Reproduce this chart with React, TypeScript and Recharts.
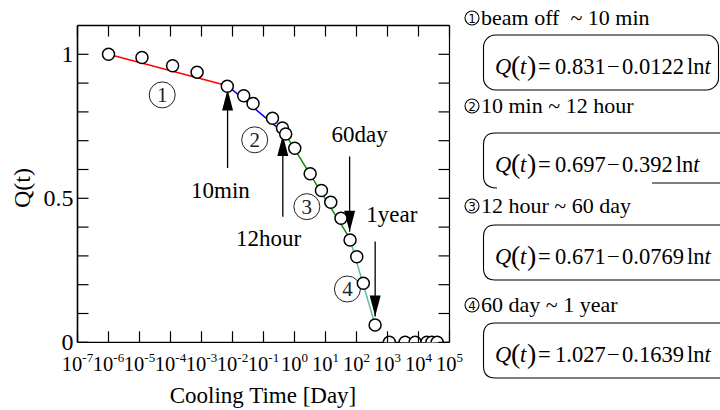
import { ScatterChart, Scatter, XAxis, YAxis } from "recharts";

const FONT = "'Liberation Serif', 'Times New Roman', serif";

// measured points: cooling time [day], Q(t)
const points = [
  { t: 1e-6, q: 1.0 },
  { t: 1.2e-5, q: 0.989 },
  { t: 1.17e-4, q: 0.96 },
  { t: 7.2e-4, q: 0.938 },
  { t: 6.8e-3, q: 0.889 },
  { t: 0.023, q: 0.856 },
  { t: 0.046, q: 0.829 },
  { t: 0.195, q: 0.778 },
  { t: 0.41, q: 0.744 },
  { t: 0.52, q: 0.723 },
  { t: 1.02, q: 0.674 },
  { t: 3.2, q: 0.585 },
  { t: 7.4, q: 0.527 },
  { t: 14.8, q: 0.486 },
  { t: 31.6, q: 0.431 },
  { t: 62, q: 0.355 },
  { t: 102, q: 0.297 },
  { t: 166, q: 0.205 },
  { t: 398, q: 0.06 },
  { t: 1150, q: 0.0 },
  { t: 3700, q: 0.0 },
  { t: 7800, q: 0.0 },
  { t: 18600, q: 0.0 },
  { t: 27000, q: 0.0 },
  { t: 40000, q: 0.0 },
];

// fitted segments (end points)
const fit1 = [{ t: 1e-6, q: 1.0 }, { t: 6.9e-3, q: 0.891 }];
const fit2 = [{ t: 6.9e-3, q: 0.891 }, { t: 0.51, q: 0.722 }];
const fit3 = [{ t: 0.51, q: 0.722 }, { t: 60, q: 0.362 }];
const fit4 = [{ t: 60, q: 0.362 }, { t: 400, q: 0.06 }];

const xTicks = [1e-7, 1e-6, 1e-5, 1e-4, 1e-3, 1e-2, 1e-1, 1, 10, 100, 1e3, 1e4, 1e5];
const yTicks = [0, 0.1, 0.2, 0.3, 0.4, 0.5, 0.6, 0.7, 0.8, 0.9, 1.0];
const yLabels = [0, 0.5, 1];

// arrows: position, tail and tip
const arrows = [
  { t: 6.94e-3, from: 0.605, to: 0.878, dir: "up" },
  { t: 0.42, from: 0.436, to: 0.72, dir: "up" },
  { t: 60, from: 0.645, to: 0.384, dir: "down" },
  { t: 400, from: 0.35, to: 0.09, dir: "down" },
];
const arrowLabels = [
  { t: 0.0041, q: 0.501, text: "10min" },
  { t: 0.145, q: 0.335, text: "12hour" },
  { t: 126, q: 0.697, text: "60day" },
  { t: 1380, q: 0.416, text: "1year" },
];
const regionMarks = [
  { t: 5.4e-5, q: 0.859, n: "1" },
  { t: 0.052, q: 0.703, n: "2" },
  { t: 2.5, q: 0.471, n: "3" },
  { t: 51, q: 0.185, n: "4" },
];

const ranges = ["beam off  ~ 10 min", "10 min ~ 12 hour", "12 hour ~ 60 day", "60 day ~ 1 year"];
const coefs = [
  ["0.831", "0.0122"],
  ["0.697", "0.392"],
  ["0.671", "0.0769"],
  ["1.027", "0.1639"],
];

const TICK = 11;

const BottomTick = ({ x, y, payload }: any) => {
  const e = Math.round(Math.log10(payload.value));
  return (
    <g>
      <line x1={x} y1={y} x2={x} y2={y - TICK} stroke="#000" strokeWidth={1.2} />
      <text x={x} y={y + 29} textAnchor="middle" fontFamily={FONT} fontSize={20.5} fill="#000">
        <tspan>10</tspan>
        <tspan dy={-9} fontSize={13}>{e}</tspan>
      </text>
    </g>
  );
};

const TopTick = ({ x, y }: any) => (
  <line x1={x} y1={y} x2={x} y2={y + TICK} stroke="#000" strokeWidth={1.2} />
);

const LeftTick = ({ x, y, payload }: any) => {
  const show = yLabels.some((v) => Math.abs(v - payload.value) < 1e-6);
  return (
    <g>
      <line x1={x} y1={y} x2={x + TICK} y2={y} stroke="#000" strokeWidth={1.2} />
      {show && (
        <text x={x - 4} y={y + 8} textAnchor="end" fontFamily={FONT} fontSize={24} fill="#000">
          {payload.value}
        </text>
      )}
    </g>
  );
};

const RightTick = ({ x, y }: any) => (
  <line x1={x} y1={y} x2={x - TICK} y2={y} stroke="#000" strokeWidth={1.2} />
);

const Circle = (props: any) => (
  <circle cx={props.cx} cy={props.cy} r={6} fill="#fff" stroke="#000" strokeWidth={1.5} />
);

const Empty = () => <g />;

const Head = (dir: string) => (props: any) => {
  const { cx, cy } = props;
  const s = dir === "up" ? 1 : -1;
  return (
    <polygon
      points={`${cx},${cy} ${cx - 5.5},${cy + s * 21} ${cx + 5.5},${cy + s * 21}`}
      fill="#000"
    />
  );
};

const LabelText = (props: any) => (
  <text x={props.cx} y={props.cy} textAnchor="middle" fontFamily={FONT} fontSize={23} fill="#000">
    {props.payload.text}
  </text>
);

const RegionMark = (props: any) => (
  <g>
    <circle cx={props.cx} cy={props.cy} r={13} fill="none" stroke="#222" strokeWidth={1} />
    <text
      x={props.cx}
      y={props.cy + 7}
      textAnchor="middle"
      fontFamily={FONT}
      fontSize={21}
      fill="#222"
    >
      {props.payload.n}
    </text>
  </g>
);

const SmallCircled = ({ x, y, n }: { x: number; y: number; n: number }) => (
  <g>
    <circle cx={x} cy={y} r={7} fill="none" stroke="#000" strokeWidth={1.1} />
    <text x={x} y={y + 4.5} textAnchor="middle" fontFamily="'DejaVu Sans', sans-serif" fontSize={12} fill="#000">
      {n}
    </text>
  </g>
);

const boxTops = [35, 133, 225, 323];
const rangeBaselines = [25, 113, 213, 312];

const Panel = () => (
  <svg width={720} height={410} style={{ position: "absolute", left: 0, top: 0, pointerEvents: "none" }}>
    <text
      transform="translate(30,188) rotate(-90)"
      textAnchor="middle"
      fontFamily={FONT}
      fontSize={24}
      fill="#000"
    >
      Q(t)
    </text>
    <text x={263} y={403} textAnchor="middle" fontFamily={FONT} fontSize={23} fill="#000">
      Cooling Time [Day]
    </text>
    {ranges.map((r, i) => {
      const top = boxTops[i];
      const h = 55;
      const [a, b] = coefs[i];
      const base = top + 39;
      return (
        <g key={i}>
          <SmallCircled x={472} y={rangeBaselines[i] - 7} n={i + 1} />
          <text x={481} y={rangeBaselines[i]} fontFamily={FONT} fontSize={22} fill="#000" style={{ whiteSpace: "pre" }}>
            {r}
          </text>
          {i === 0 ? (
            <rect x={483.5} y={top} width={235} height={h} rx={12} fill="none" stroke="#000" strokeWidth={1.1} />
          ) : i === 1 ? (
            <g fill="none" stroke="#000" strokeWidth={1.1}>
              <path d={`M 722 ${top} H 495 Q 483.5 ${top} 483.5 ${top + 12} V ${top + h - 12} Q 483.5 ${top + h} 497 ${top + h}`} />
              <path d={`M 652 ${top + h - 5} H 722`} />
            </g>
          ) : (
            <path
              d={`M 722 ${top} H 495 Q 483.5 ${top} 483.5 ${top + 12} V ${top + h - 12} Q 483.5 ${top + h} 495 ${top + h} H 722`}
              fill="none"
              stroke="#000"
              strokeWidth={1.1}
            />
          )}
          <g fontFamily={FONT} fontSize={22.5} fill="#000">
            <text x={495} y={base} fontStyle="italic">Q</text>
            <text x={511} y={base + 1} fontSize={28}>(</text>
            <text x={520} y={base} fontStyle="italic">t</text>
            <text x={527} y={base + 1} fontSize={28}>)</text>
            <text x={538} y={base}>=</text>
            <text x={555} y={base}>{a}</text>
            <text x={607} y={base}>−</text>
            <text x={622} y={base}>
              <tspan>{b}</tspan>
              <tspan dx={3}>ln</tspan>
              <tspan fontStyle="italic">t</tspan>
            </text>
          </g>
        </g>
      );
    })}
  </svg>
);

export default function App() {
  return (
    <div style={{ position: "absolute", left: 0, top: 0, width: 720, height: 410, background: "#fff" }}>
      <ScatterChart
        width={720}
        height={410}
        margin={{ top: 24.5, left: 76.5, right: 269.5, bottom: 66.7 }}
      >
        <XAxis
          xAxisId="b"
          type="number"
          dataKey="t"
          scale="log"
          domain={[1e-7, 1e5]}
          allowDataOverflow
          ticks={xTicks}
          interval={0}
          height={1}
          tickSize={0}
          tickMargin={0}
          tick={<BottomTick />}
          axisLine={{ stroke: "#000", strokeWidth: 1.2 }}
        />
        <XAxis
          xAxisId="top"
          orientation="top"
          type="number"
          dataKey="t"
          scale="log"
          domain={[1e-7, 1e5]}
          allowDataOverflow
          ticks={xTicks}
          interval={0}
          height={1}
          tickSize={0}
          tickMargin={0}
          tick={<TopTick />}
          axisLine={{ stroke: "#000", strokeWidth: 1.6 }}
        />
        <YAxis
          yAxisId="l"
          type="number"
          dataKey="q"
          domain={[0, 1.1]}
          allowDataOverflow
          ticks={yTicks}
          interval={0}
          width={1}
          tickSize={0}
          tickMargin={0}
          tick={<LeftTick />}
          axisLine={{ stroke: "#000", strokeWidth: 1.6 }}
        />
        <YAxis
          yAxisId="r"
          orientation="right"
          type="number"
          dataKey="q"
          domain={[0, 1.1]}
          allowDataOverflow
          ticks={yTicks}
          interval={0}
          width={1}
          tickSize={0}
          tickMargin={0}
          tick={<RightTick />}
          axisLine={{ stroke: "#000", strokeWidth: 1.2 }}
        />
        <Scatter xAxisId="top" yAxisId="r" data={points} shape={<Empty />} isAnimationActive={false} />

        {arrows.map((a, i) => (
          <Scatter
            key={"s" + i}
            xAxisId="b"
            yAxisId="l"
            data={[{ t: a.t, q: a.from }, { t: a.t, q: a.to }]}
            line={{ stroke: "#000", strokeWidth: 1.3 }}
            shape={<Empty />}
            isAnimationActive={false}
          />
        ))}
        {arrows.map((a, i) => (
          <Scatter
            key={"h" + i}
            xAxisId="b"
            yAxisId="l"
            data={[{ t: a.t, q: a.to }]}
            shape={Head(a.dir)}
            isAnimationActive={false}
          />
        ))}
        <Scatter xAxisId="b" yAxisId="l" data={arrowLabels} shape={<LabelText />} isAnimationActive={false} />
        <Scatter xAxisId="b" yAxisId="l" data={regionMarks} shape={<RegionMark />} isAnimationActive={false} />

        <Scatter xAxisId="b" yAxisId="l" data={fit1} line={{ stroke: "#ff0000", strokeWidth: 1.5 }} shape={<Empty />} isAnimationActive={false} />
        <Scatter xAxisId="b" yAxisId="l" data={fit2} line={{ stroke: "#0000ff", strokeWidth: 1.5 }} shape={<Empty />} isAnimationActive={false} />
        <Scatter xAxisId="b" yAxisId="l" data={fit3} line={{ stroke: "#0a8a0a", strokeWidth: 1.5 }} shape={<Empty />} isAnimationActive={false} />
        <Scatter xAxisId="b" yAxisId="l" data={fit4} line={{ stroke: "#5cbfa6", strokeWidth: 1.5 }} shape={<Empty />} isAnimationActive={false} />

        <Scatter xAxisId="b" yAxisId="l" data={points} shape={<Circle />} isAnimationActive={false} />
      </ScatterChart>
      <Panel />
    </div>
  );
}
